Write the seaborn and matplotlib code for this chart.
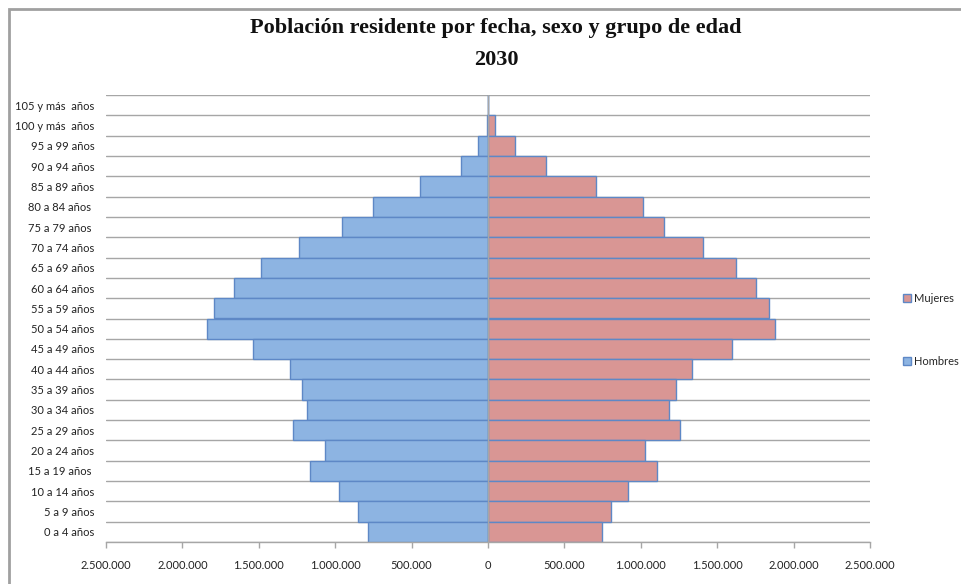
import numpy as np
import pandas as pd
import matplotlib
matplotlib.use("Agg")
import matplotlib.pyplot as plt
from matplotlib.ticker import FuncFormatter, FixedLocator, MultipleLocator
from matplotlib.patches import Rectangle, Patch
import seaborn as sns

grupos = ["105 y más  años", "100 y más  años", "95 a 99 años", "90 a 94 años",
          "85 a 89 años", "80 a 84 años ", "75 a 79 años ", "70 a 74 años",
          "65 a 69 años", "60 a 64 años", "55 a 59 años", "50 a 54 años",
          "45 a 49 años", "40 a 44 años", "35 a 39 años", "30 a 34 años",
          "25 a 29 años", "20 a 24 años", "15 a 19 años ", "10 a 14 años",
          "5 a 9 años", "0 a 4 años"]
hombres = [0, 8000, 65000, 179000, 445000, 752000, 955000, 1237000,
           1485000, 1662000, 1793000, 1839000, 1538000, 1296000, 1215000,
           1187000, 1276000, 1067000, 1165000, 973000, 848000, 785000]
mujeres = [0, 44000, 179000, 380000, 707000, 1014000, 1154000, 1407000,
           1623000, 1752000, 1839000, 1881000, 1597000, 1338000, 1233000,
           1185000, 1257000, 1025000, 1106000, 919000, 805000, 746000]
titulo = "Población residente por fecha, sexo y grupo de edad"
subtitulo = "2030"

df = pd.DataFrame({
    "grupo": grupos * 2,
    "sexo": ["Hombres"] * len(grupos) + ["Mujeres"] * len(grupos),
    "valor": [-v for v in hombres] + mujeres,
})

sns.set_theme(style="white")
plt.rcParams["font.family"] = ["Lato", "DejaVu Sans"]

fig = plt.figure(figsize=(9.61, 5.84), dpi=100)
ax = fig.add_axes([106 / 961, 1 - 542 / 584, (870 - 106) / 961, (542 - 95) / 584])

palette = {"Hombres": "#8DB4E2", "Mujeres": "#D99694"}
sns.barplot(data=df, y="grupo", x="valor", hue="sexo", order=grupos,
            hue_order=["Hombres", "Mujeres"], palette=palette, dodge=False,
            width=1.0, orient="h", ax=ax, edgecolor="#5E88C6", linewidth=1.0,
            saturation=1, legend=False, zorder=2)

n = len(grupos)
ax.set_xlim(-2500000, 2500000)
ax.set_ylim(n - 0.5, -0.5)
ax.xaxis.set_major_locator(MultipleLocator(500000))
ax.xaxis.set_major_formatter(FuncFormatter(
    lambda v, p: f"{abs(int(round(v))):,}".replace(",", ".")))
ax.yaxis.set_minor_locator(FixedLocator(np.arange(-0.5, n, 1)))
ax.grid(which="minor", axis="y", color="#A6A6A6", linewidth=1.0, zorder=0)
ax.grid(which="major", axis="both", visible=False)
ax.set_axisbelow(True)
ax.axvline(0, color="#A6A6A6", linewidth=1.0, zorder=3)

for s in ["top", "left", "right"]:
    ax.spines[s].set_visible(False)
ax.spines["bottom"].set_color("#A6A6A6")
ax.spines["bottom"].set_linewidth(1.0)

ax.set_xlabel("")
ax.set_ylabel("")
ax.tick_params(axis="x", which="major", bottom=True, length=4, width=1,
               color="#A6A6A6", direction="out", pad=9, labelsize=8,
               labelcolor="#222222")
ax.tick_params(axis="y", which="both", left=False, length=0, pad=8.5,
               labelsize=8, labelcolor="#222222")

fig.text(496 / 961, 1 - 28 / 584, titulo, ha="center", va="center",
         fontsize=16, fontweight="bold", family=["Liberation Serif"],
         color="#111111")
fig.text(496 / 961, 1 - 60 / 584, subtitulo, ha="center", va="center",
         fontsize=16, fontweight="bold", family=["Liberation Serif"],
         color="#111111")

handles = [Patch(facecolor=palette["Mujeres"], edgecolor="#5E88C6", linewidth=1),
           Patch(facecolor=palette["Hombres"], edgecolor="#5E88C6", linewidth=1)]
fig.legend(handles, ["Mujeres", "Hombres"], loc="upper left",
           bbox_to_anchor=(903 / 961, 1 - 293 / 584), frameon=False,
           fontsize=8, handlelength=0.7, handleheight=0.7, handletextpad=0.25,
           labelspacing=4.7, borderaxespad=0, borderpad=0)

fig.patches.append(Rectangle((9 / 961, -0.1), 1.2, 1.1 - 9.5 / 584,
                             transform=fig.transFigure, fill=False,
                             edgecolor="#A0A0A0", linewidth=2.0))

fig.savefig("out.png", dpi=100)
